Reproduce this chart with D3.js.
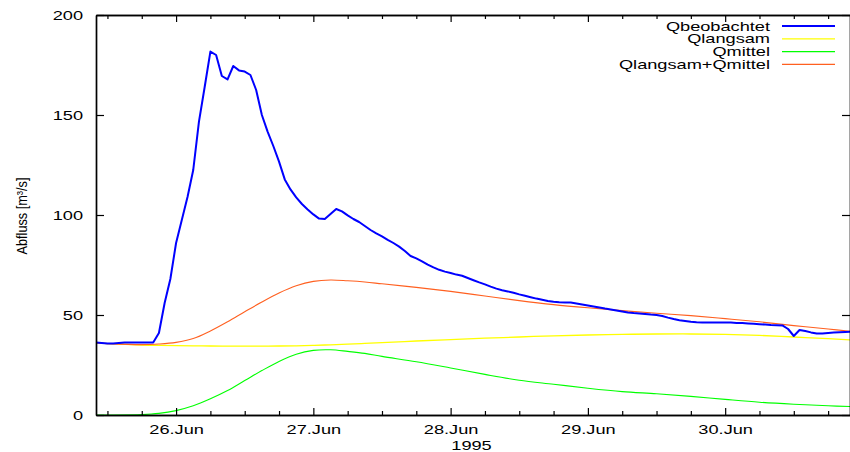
<!DOCTYPE html>
<html>
<head>
<meta charset="utf-8">
<script src="https://cdn.jsdelivr.net/npm/d3@7"></script>
<style>
  html, body { margin: 0; padding: 0; background: #fff; }
  svg { display: block; }
  text { font-family: "Liberation Sans", Arial, Helvetica, sans-serif; fill: #000; }
</style>
</head>
<body>
<svg id="chart" width="850" height="452"></svg>
<script>
// ---- data ----
const startTime = "1995-06-25T10:00:00Z";   // first hourly observation
const endTime   = "1995-06-30T22:00:00Z";
// hourly observed discharge, starting at startTime
const qBeobachtet = [
  36.3, 36.0, 35.7, 35.7, 36.0, 36.3, 36.3, 36.3, 36.3, 36.3, 36.3, 41.0, 56.0, 68.0,
  86.0, 97.5, 109.0, 122.5, 146.7, 164.0, 181.7, 180.0, 169.5, 167.8, 174.5, 172.3, 171.7, 170.0,
  162.5, 150.0, 141.7, 134.5, 126.7, 117.8, 112.8, 108.8, 105.5, 102.8,
  100.3, 98.2, 98.0, 100.5, 103.0, 101.8, 99.8, 98.0, 96.5, 94.5, 92.5, 90.8, 89.3, 87.6,
  86.0, 84.2, 82.0, 79.5, 78.3, 76.8, 75.2, 73.8, 72.6, 71.7,
  71.0, 70.2, 69.6, 68.5, 67.4, 66.3, 65.3, 64.2, 63.2, 62.4, 61.8, 61.1, 60.3, 59.6,
  58.9, 58.2, 57.6, 57.0, 56.6, 56.4, 56.3, 56.2, 55.7, 55.2,
  54.7, 54.2, 53.7, 53.2, 52.8, 52.3, 51.8, 51.3, 51.0, 50.8, 50.5, 50.2, 50.0, 49.5,
  48.7, 48.0, 47.4, 47.0, 46.6, 46.4, 46.3, 46.3, 46.3, 46.3,
  46.3, 46.2, 46.0, 46.0, 45.8, 45.6, 45.4, 45.2, 45.0, 44.9, 44.8, 43.0, 39.5, 42.5,
  42.0, 41.3, 40.7, 40.7, 41.0, 41.2, 41.4, 41.5, 41.6
];
// model series sampled at these hours after startTime
const modelHours = [0, 2, 8, 11, 14, 17, 20, 23, 26, 29, 32, 35, 38, 41, 44, 47, 50, 56, 62, 68, 74, 80, 86, 92, 98, 104, 110, 116, 122, 128, 132];
const qLangsam = [36.0, 35.7, 35.0, 34.8, 34.7, 34.6, 34.5, 34.4, 34.4, 34.4, 34.5, 34.6, 34.8, 35.1, 35.4, 35.8,
  36.2, 37.0, 37.7, 38.4, 39.0, 39.6, 40.0, 40.3, 40.5, 40.5, 40.3, 39.8, 39.0, 38.2, 37.5];
const qMittel  = [0.0, 0.0, 0.2, 0.8, 2.2, 4.6, 8.1, 12.2, 17.2, 22.2, 26.8, 30.4, 32.3, 32.6, 31.8, 30.8,
  29.3, 26.6, 23.5, 20.3, 17.4, 15.4, 13.4, 11.7, 10.6, 9.3, 7.8, 6.4, 5.4, 4.6, 4.2];
const qSumme   = [36.0, 35.7, 35.2, 35.5, 36.3, 38.2, 42.0, 46.6, 51.6, 56.5, 61.0, 64.6, 66.8, 67.5, 67.1, 66.5,
  65.6, 63.8, 61.8, 59.5, 57.2, 55.2, 53.6, 52.2, 50.9, 49.7, 48.2, 46.6, 44.7, 43.0, 41.8];
const yTicks = [0, 50, 100, 150, 200];
const legendLabels = ["Qbeobachtet", "Qlangsam", "Qmittel", "Qlangsam+Qmittel"];
const seriesColors = ["#0000ff", "#ffff00", "#00ff00", "#ff6020"];
const yLabel = "Abfluss [m³/s]";
const xTitle = "1995";

// ---- layout ----
const svg = d3.select("#chart");
const L = 96, R = 851, T = 15, B = 415;
const SX = 1.4; // horizontal stretch of text, as in the reference
const t0 = new Date(startTime), t1 = new Date(endTime);
const x = d3.scaleUtc().domain([t0, t1]).range([L, R]);
const y = d3.scaleLinear().domain([0, 200]).range([B, T]);
const hr = h => new Date(t0.getTime() + h * 3600e3);

const obs = qBeobachtet.map((v, i) => ({ t: hr(i), v }));
const mk = arr => arr.map((v, i) => ({ t: hr(modelHours[i]), v }));

svg.append("clipPath").attr("id", "clip")
  .append("rect").attr("x", L).attr("y", T).attr("width", R - L).attr("height", B - T);

const line = d3.line().x(d => x(d.t)).y(d => y(d.v));
const smooth = d3.line().x(d => x(d.t)).y(d => y(d.v)).curve(d3.curveCatmullRom.alpha(0.5));

const g = svg.append("g").attr("clip-path", "url(#clip)");
g.append("path").datum(mk(qLangsam)).attr("d", smooth).attr("fill", "none")
  .attr("stroke", seriesColors[1]).attr("stroke-width", 1.3);
g.append("path").datum(mk(qMittel)).attr("d", smooth).attr("fill", "none")
  .attr("stroke", seriesColors[2]).attr("stroke-width", 1.1);
g.append("path").datum(mk(qSumme)).attr("d", smooth).attr("fill", "none")
  .attr("stroke", seriesColors[3]).attr("stroke-width", 1.1);
g.append("path").datum(obs).attr("d", line).attr("fill", "none")
  .attr("stroke", seriesColors[0]).attr("stroke-width", 2).attr("stroke-linejoin", "round");

// ---- axes (gnuplot-like, inward ticks, mirrored) ----
const majorX = d3.utcDay.range(d3.utcDay.ceil(t0), t1);
const minorX = d3.utcHour.every(6).range(t0, t1).filter(d => d.getUTCHours() !== 0);
const fmt = d3.utcFormat("%d.%b");

const axBottom = svg.append("g").attr("transform", `translate(0,${B})`)
  .call(d3.axisBottom(x).tickValues(majorX).tickSize(-7).tickFormat(fmt).tickSizeOuter(0));
svg.append("g").attr("transform", `translate(0,${B})`)
  .call(d3.axisBottom(x).tickValues(minorX).tickSize(-4).tickFormat("").tickSizeOuter(0));
svg.append("g").attr("transform", `translate(0,${T})`)
  .call(d3.axisTop(x).tickValues(majorX).tickSize(-7).tickFormat("").tickSizeOuter(0));
svg.append("g").attr("transform", `translate(0,${T})`)
  .call(d3.axisTop(x).tickValues(minorX).tickSize(-4).tickFormat("").tickSizeOuter(0));
const axLeft = svg.append("g").attr("transform", `translate(${L},0)`)
  .call(d3.axisLeft(y).tickValues(yTicks).tickSize(-8).tickFormat(d3.format("d")).tickSizeOuter(0));
svg.append("g").attr("transform", `translate(${R - 1},0)`)
  .call(d3.axisRight(y).tickValues(yTicks).tickSize(-8).tickFormat("").tickSizeOuter(0));

svg.selectAll(".domain").attr("stroke", "#000").attr("stroke-width", 1.7);
svg.selectAll(".tick line").attr("stroke", "#000").attr("stroke-width", 1.2);
axBottom.selectAll(".tick text").attr("font-size", 13).attr("dy", 0).attr("x", 0).attr("y", 0)
  .attr("transform", `translate(0,19) scale(${SX},1)`)
  .style("font-family", "'Liberation Sans', Arial, sans-serif");
axLeft.selectAll(".tick text").attr("font-size", 13).attr("x", 0).attr("dy", "0.35em")
  .attr("transform", `translate(-13,0) scale(${SX},1)`)
  .style("font-family", "'Liberation Sans', Arial, sans-serif");

// titles
svg.append("text").attr("transform", `translate(${(L + R) / 2 - 2},450) scale(${SX},1)`)
  .attr("text-anchor", "middle").attr("font-size", 13).text(xTitle);
svg.append("text").attr("transform", `translate(27,216) rotate(-90)`).attr("text-anchor", "middle")
  .attr("font-size", 14).attr("textLength", 77).attr("lengthAdjust", "spacingAndGlyphs").text(yLabel);

// legend
const leg = svg.append("g");
legendLabels.forEach((lab, i) => {
  const yy = 26 + i * 12.8;
  leg.append("text").attr("transform", `translate(770,${yy + 4.5}) scale(${SX},1)`)
    .attr("text-anchor", "end").attr("font-size", 13).text(lab);
  leg.append("line").attr("x1", 782).attr("x2", 835).attr("y1", yy).attr("y2", yy)
    .attr("stroke", seriesColors[i]).attr("stroke-width", i === 0 ? 1.8 : 1.2);
});
</script>
</body>
</html>
